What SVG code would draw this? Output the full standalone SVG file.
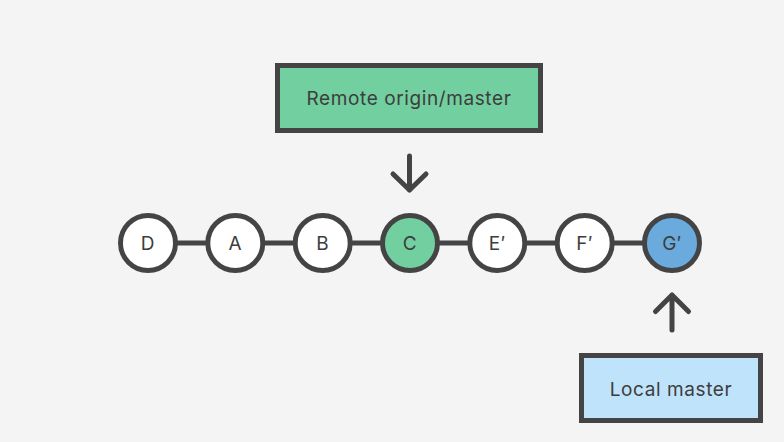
<svg xmlns="http://www.w3.org/2000/svg" width="784" height="442" viewBox="0 0 784 442">
<style>
.bg{fill:#f4f4f4}
.box{stroke:#444;stroke-width:5}
.node{stroke:#444;stroke-width:5}
.lbl{font-family:Inter,"Liberation Sans",sans-serif;font-size:19px;letter-spacing:0.6px;fill:#3d3d3d;text-anchor:middle;dominant-baseline:central}
.edge{stroke:#444;stroke-width:5;fill:none}
.arr{stroke:#444;stroke-width:5;fill:none;stroke-linecap:round;stroke-linejoin:round}
</style>
<rect class="bg" width="784" height="442"/>
<g id="connectors">
<line class="edge" x1="148" y1="243" x2="672" y2="243"/>
<path class="arr" d="M409.5 156 V190 M393 174 L409.5 190 L426 174"/>
<path class="arr" d="M672 330 V295 M655.5 311.5 L672 295 L688.5 311.5"/>
</g>
<g id="remote">
<rect class="box" x="277.5" y="65.5" width="263" height="65" fill="#72cfa0"/>
<text class="lbl" x="409" y="98">Remote origin/master</text>
</g>
<g id="local">
<rect class="box" x="581.5" y="355.5" width="179" height="65" fill="#bfe3fb"/>
<text class="lbl" x="671" y="389">Local master</text>
</g>
<g id="D"><circle class="node" cx="148" cy="243" r="27.5" fill="#fff"/><text class="lbl" x="148" y="243">D</text></g>
<g id="A"><circle class="node" cx="235.3" cy="243" r="27.5" fill="#fff"/><text class="lbl" x="235.3" y="243">A</text></g>
<g id="B"><circle class="node" cx="322.7" cy="243" r="27.5" fill="#fff"/><text class="lbl" x="322.7" y="243">B</text></g>
<g id="C"><circle class="node" cx="410" cy="243" r="27.5" fill="#72cfa0"/><text class="lbl" x="410" y="243">C</text></g>
<g id="E"><circle class="node" cx="497.3" cy="243" r="27.5" fill="#fff"/><text class="lbl" x="497.3" y="243">E′</text></g>
<g id="F"><circle class="node" cx="584.7" cy="243" r="27.5" fill="#fff"/><text class="lbl" x="584.7" y="243">F′</text></g>
<g id="G"><circle class="node" cx="672" cy="243" r="27.5" fill="#6aaadc"/><text class="lbl" x="672" y="243">G′</text></g>
</svg>
